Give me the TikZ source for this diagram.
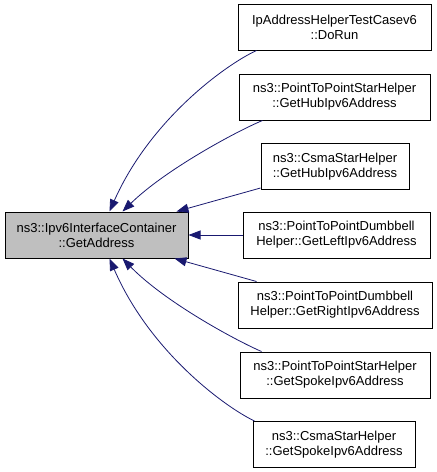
\documentclass[tikz,border=0pt]{standalone}
\usepackage{fontspec}
\setmainfont{Liberation Sans}
\usetikzlibrary{arrows.meta,calc}
\definecolor{edgec}{HTML}{191970}
\definecolor{mfill}{HTML}{BFBFBF}
\begin{document}
\begin{tikzpicture}[x=1pt,y=-1pt,
  box/.style={draw=black, line width=1pt, inner sep=0pt, align=center,
    minimum height=46pt, font=\fontsize{13}{15}\selectfont},
  edge/.style={draw=edgec, line width=0.8pt, -{Triangle[length=12pt,width=9pt]}}]
\useasboundingbox (0,0) rectangle (437,472);
\node[box, fill=mfill, minimum width=183pt] (m) at (96.5,235) {ns3::Ipv6InterfaceContainer\\::GetAddress};
\node[box, minimum width=193pt] (b1) at (334.5,27) {IpAddressHelperTestCasev6\\::DoRun};
\node[box, minimum width=191pt] (b2) at (334.5,97) {ns3::PointToPointStarHelper\\::GetHubIpv6Address};
\node[box, minimum width=148pt] (b3) at (335,166.5) {ns3::CsmaStarHelper\\::GetHubIpv6Address};
\node[box, minimum width=187pt] (b4) at (336.5,235) {ns3::PointToPointDumbbell\\Helper::GetLeftIpv6Address};
\node[box, minimum width=194pt] (b5) at (335,305) {ns3::PointToPointDumbbell\\Helper::GetRightIpv6Address};
\node[box, minimum width=190pt] (b6) at (335,375) {ns3::PointToPointStarHelper\\::GetSpokeIpv6Address};
\node[box, minimum width=162pt] (b7) at (334,444.5) {ns3::CsmaStarHelper\\::GetSpokeIpv6Address};

\draw[edge] ($(b1.south west)+(19,0)$) .. controls (225,65) and (150,120) .. ($(m.north west)+(105,0)$);
\draw[edge] ($(b2.south west)+(24,0)$) .. controls (235,132) and (165,170) .. ($(m.north west)+(118,0)$);
\draw[edge] ($(b3.south west)+(0,-2)$) -- ($(m.north west)+(172,0)$);
\draw[edge] (b4.west) -- (m.east);
\draw[edge] ($(b5.north west)+(19,0)$) -- ($(m.south west)+(170,0)$);
\draw[edge] ($(b6.north west)+(22,0)$) .. controls (235,340) and (165,302) .. ($(m.south west)+(118,0)$);
\draw[edge] ($(b7.north west)+(2,0)$) .. controls (225,407) and (150,352) .. ($(m.south west)+(105,0)$);
\end{tikzpicture}
\end{document}
